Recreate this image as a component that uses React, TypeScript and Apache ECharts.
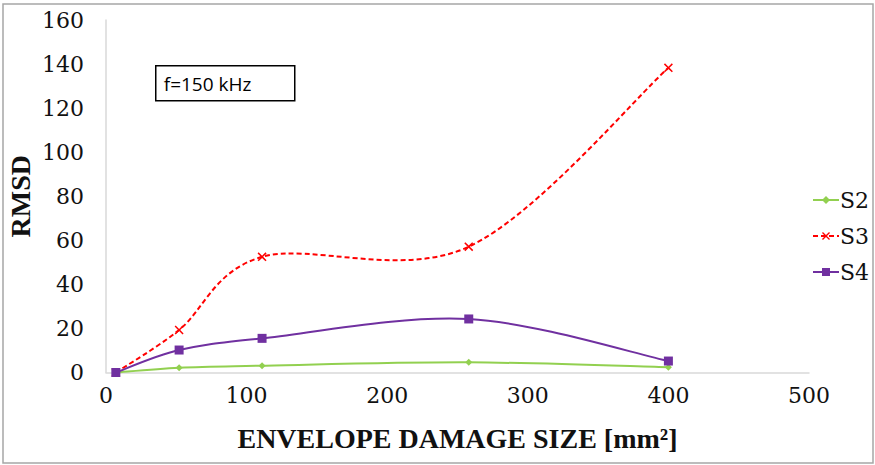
import React, { useEffect, useRef } from "react";
import * as echarts from "echarts";

// Envelope damage sizes (mm²) and RMSD values per sensor path at f = 150 kHz
const damageSize = [7, 52, 111, 258, 400];
const rmsdS2 = [0, 2.2, 3.1, 4.6, 2.4];
const rmsdS3 = [0, 19.3, 52.5, 57.1, 138.3];
const rmsdS4 = [0, 10.2, 15.5, 24.3, 5.2];
const seriesNames = ["S2", "S3", "S4"];

const SERIF_BOLD = "Liberation Serif";
const SERIF_TEXT = "DejaVu Serif";
const CROSS =
  "path://M0,1.2 L1.2,0 L5,3.8 L8.8,0 L10,1.2 L6.2,5 L10,8.8 L8.8,10 L5,6.2 L1.2,10 L0,8.8 L3.8,5 Z";

const pairs = (ys: number[]) => damageSize.map((x, i) => [x, ys[i]]);

// Catmull-Rom style cubic curve through the projected points
function smoothCurve(name: string, ys: number[], color: string, dash: number[] | null) {
  return {
    name: name + " curve",
    type: "custom",
    coordinateSystem: "cartesian2d",
    data: pairs(ys),
    encode: { x: 0, y: 1 },
    silent: true,
    z: 1,
    renderItem: (params: any, api: any) => {
      if (params.dataIndex !== 0) return null;
      const pts = damageSize.map((x, i) => api.coord([x, ys[i]]));
      const n = pts.length;
      let d = `M${pts[0][0]},${pts[0][1]}`;
      for (let i = 0; i < n - 1; i++) {
        const p0 = pts[Math.max(i - 1, 0)];
        const p1 = pts[i];
        const p2 = pts[i + 1];
        const p3 = pts[Math.min(i + 2, n - 1)];
        const c1x = p1[0] + (p2[0] - p0[0]) / 6;
        const c1y = p1[1] + (p2[1] - p0[1]) / 6;
        const c2x = p2[0] - (p3[0] - p1[0]) / 6;
        const c2y = p2[1] - (p3[1] - p1[1]) / 6;
        d += ` C${c1x},${c1y} ${c2x},${c2y} ${p2[0]},${p2[1]}`;
      }
      return {
        type: "path",
        shape: { pathData: d },
        style: { fill: "none", stroke: color, lineWidth: 2, lineDash: dash },
      };
    },
  };
}

export default function App() {
  const ref = useRef<HTMLDivElement>(null);

  useEffect(() => {
    if (!ref.current) return;
    const chart = echarts.init(ref.current, null, { renderer: "svg" });
    const labelStyle = { fontFamily: SERIF_TEXT, fontSize: 22, color: "#111" };
    chart.setOption({
      animation: false,
      backgroundColor: "#fff",
      grid: {
        left: 106,
        right: 66,
        top: 20,
        bottom: 92.5,
        containLabel: false,
        outerBoundsMode: "none",
      },
      legend: {
        orient: "vertical",
        left: 807,
        top: 184,
        itemWidth: 26,
        itemHeight: 10,
        itemGap: 14,
        data: seriesNames,
        lineStyle: { opacity: 1 },
        textStyle: { ...labelStyle, padding: [0, 0, 0, -4] },
      },
      xAxis: {
        type: "value",
        min: 0,
        max: 500,
        interval: 100,
        name: "ENVELOPE DAMAGE SIZE [mm²]",
        nameLocation: "middle",
        nameGap: 52,
        nameMoveOverlap: false,
        nameTextStyle: { fontFamily: SERIF_BOLD, fontSize: 28, fontWeight: "bold", color: "#111" },
        axisLine: { show: true, lineStyle: { color: "#d9d9d9", width: 1.5 } },
        axisTick: { show: false },
        splitLine: { show: false },
        axisLabel: { ...labelStyle, margin: 12 },
      },
      yAxis: {
        type: "value",
        min: 0,
        max: 160,
        interval: 20,
        name: "RMSD",
        nameLocation: "middle",
        nameGap: 72,
        nameMoveOverlap: false,
        nameTextStyle: { fontFamily: SERIF_BOLD, fontSize: 28, fontWeight: "bold", color: "#111" },
        axisLine: { show: true, lineStyle: { color: "#d9d9d9", width: 1.5 } },
        axisTick: { show: false },
        splitLine: { show: false },
        axisLabel: { ...labelStyle, margin: 22 },
      },
      series: [
        smoothCurve("S2", rmsdS2, "#92D050", null),
        smoothCurve("S3", rmsdS3, "#FF0000", [5, 3]),
        smoothCurve("S4", rmsdS4, "#7030A0", null),
        {
          name: "S2",
          type: "line",
          data: pairs(rmsdS2),
          symbol: "diamond",
          symbolSize: 7,
          color: "#92D050",
          lineStyle: { width: 2, color: "#92D050", opacity: 0 },
          itemStyle: { color: "#92D050" },
          z: 3,
        },
        {
          name: "S3",
          type: "line",
          data: pairs(rmsdS3),
          symbol: CROSS,
          symbolSize: 9,
          color: "#FF0000",
          lineStyle: { width: 2, color: "#FF0000", type: [5, 3], opacity: 0 },
          itemStyle: { color: "#FF0000" },
          z: 2,
        },
        {
          name: "S4",
          type: "line",
          data: pairs(rmsdS4),
          symbol: "rect",
          symbolSize: 9,
          color: "#7030A0",
          lineStyle: { width: 2, color: "#7030A0", opacity: 0 },
          itemStyle: { color: "#7030A0" },
          z: 4,
        },
      ],
      graphic: [
        {
          type: "rect",
          shape: { x: 3, y: 4, width: 870, height: 459 },
          style: { fill: "none", stroke: "#a6a6a6", lineWidth: 1.5 },
          silent: true,
        },
        {
          type: "group",
          left: 155,
          top: 65,
          children: [
            {
              type: "rect",
              shape: { x: 0, y: 0, width: 139, height: 35 },
              style: { fill: "#fff", stroke: "#000", lineWidth: 1.5 },
            },
            {
              type: "text",
              x: 8,
              y: 18,
              style: {
                text: "f=150 kHz",
                fontFamily: "Open Sans",
                fontSize: 19,
                fill: "#000",
                verticalAlign: "middle",
              },
            },
          ],
        },
      ],
    });
    return () => chart.dispose();
  }, []);

  return (
    <div
      ref={ref}
      style={{ position: "absolute", left: 0, top: 0, width: 875, height: 465, background: "#fff" }}
    />
  );
}
